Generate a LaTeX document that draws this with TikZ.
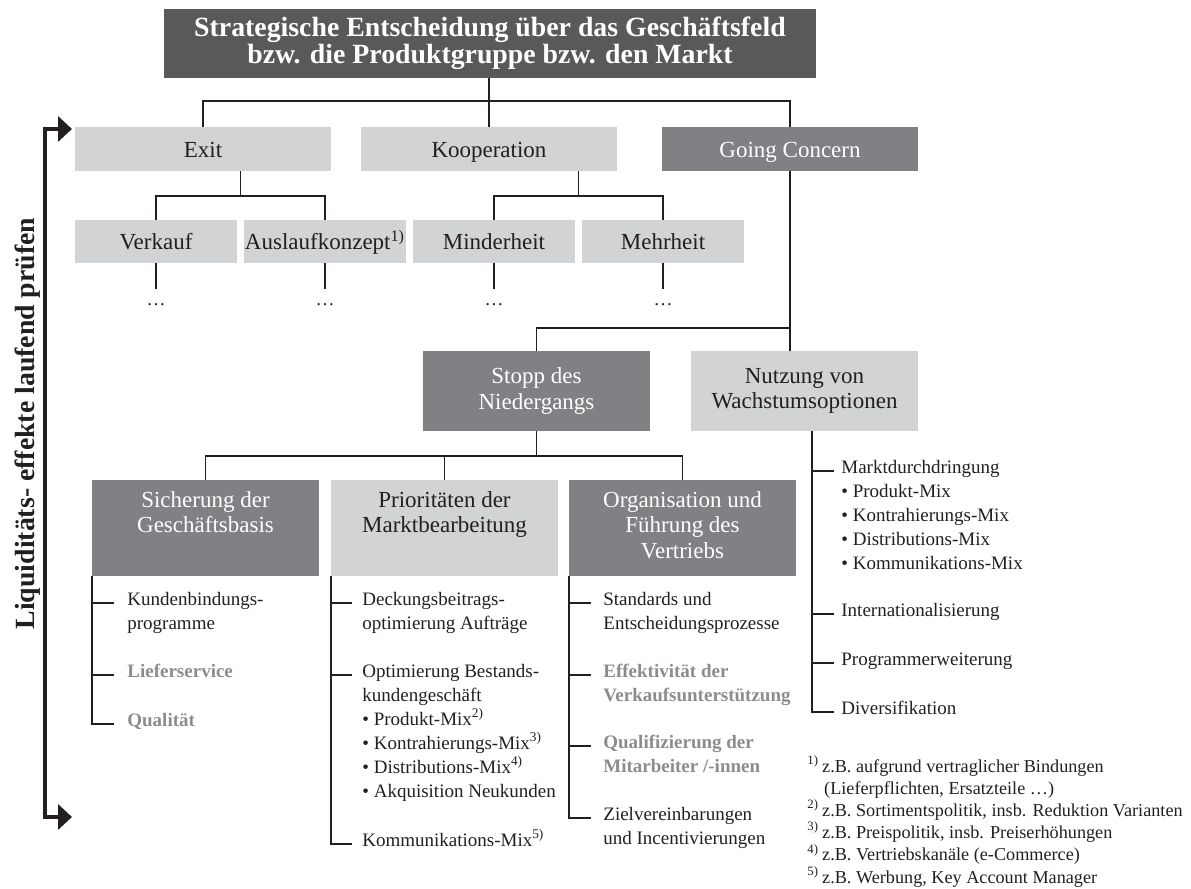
\documentclass[tikz,border=0pt]{standalone}
\usepackage{fontspec}
\setmainfont{Liberation Serif}
\usetikzlibrary{arrows.meta,backgrounds,calc}
\definecolor{boxdark}{HTML}{58595B}
\definecolor{boxmid}{HTML}{808184}
\definecolor{boxlight}{HTML}{D1D3D4}
\definecolor{ink}{HTML}{231F20}
\definecolor{mutedtext}{HTML}{8B8C8E}
% multi-line list entry whose baseline is the first line
\newcommand\itemlines[1]{\begin{tabular}[t]{@{}l@{}}#1\end{tabular}}
% footnote marker that does not widen the line spacing
\newcommand\fnmark[1]{\smash{\textsuperscript{#1}}}
% top-aligned text inside the tall boxes of the third level
\newcommand\boxtop[1]{\parbox[c][48pt][t]{113.5pt}{\centering\vspace*{5.6pt}#1}}
\begin{document}
\begin{tikzpicture}[x=0.5pt, y=-0.5pt,
  every node/.style={text=ink},
  conn/.style={draw=ink, line width=0.9pt},
  boxcore/.style={inner sep=0pt, align=center},
  lightbox/.style={boxcore, fill=boxlight, text=ink},
  midbox/.style={boxcore, fill=boxmid, text=white},
  darkbox/.style={boxcore, fill=boxdark, text=white},
  boxfont/.style={font=\fontsize{11.5}{12.75}\selectfont},
  rowone/.style={boxfont, minimum width=128pt, minimum height=22pt, text height=8.4pt, text depth=0pt},
  rowtwo/.style={boxfont, minimum width=81pt, minimum height=21.5pt, text height=8.4pt, text depth=0pt},
  midrow/.style={boxfont, minimum width=113.5pt, minimum height=40pt},
  lowlight/.style={boxfont, inner sep=0pt, fill=boxlight, text=ink},
  lowmid/.style={boxfont, inner sep=0pt, fill=boxmid, text=white},
  listtext/.style={inner sep=0pt, anchor=base west, font=\fontsize{9.5}{12}\selectfont},
  mutedlist/.style={listtext, font=\fontsize{9.5}{12}\selectfont\bfseries, text=mutedtext},
  notetext/.style={inner sep=0pt, anchor=base west, font=\fontsize{9.1}{11.1}\selectfont},
  ellipsis/.style={inner sep=0pt, anchor=base, text height=8pt, font=\fontsize{9.5}{12}\selectfont},
  loopline/.style={draw=ink, line width=1.7pt, line join=miter,
    arrows={Triangle[length=7pt,width=12.5pt]-Triangle[length=7pt,width=12.5pt]}}
]
\useasboundingbox (0,0) rectangle (1191,889);

% ---- top decision ----
\node[darkbox, minimum width=326pt, minimum height=34.5pt,
      font=\fontsize{13.9}{12.6}\selectfont\bfseries] (title) at (490,43.5)
  {Strategische Entscheidung über das Geschäftsfeld\\bzw. die Produktgruppe bzw. den Markt};

% ---- first level ----
\node[lightbox, rowone] (exit) at (203,149) {Exit};
\node[lightbox, rowone] (koop) at (489,149) {Kooperation};
\node[midbox, rowone] (gc) at (790,149) {Going Concern};

% ---- second level ----
\node[lightbox, rowtwo] (verkauf) at (156,241.5) {Verkauf};
\node[lightbox, rowtwo] (ausl) at (325,241.5) {Auslaufkonzept\fnmark{1)}};
\node[lightbox, rowtwo] (minder) at (494,241.5) {Minderheit};
\node[lightbox, rowtwo] (mehr) at (663,241.5) {Mehrheit};

\node[ellipsis] (dotsA) at (156,305) {…};
\node[ellipsis] (dotsB) at (325,305) {…};
\node[ellipsis] (dotsC) at (494,305) {…};
\node[ellipsis] (dotsD) at (663,305) {…};

% ---- going concern branches ----
\node[midbox, midrow] (stopp) at (536.5,391) {Stopp des\\Niedergangs};
\node[lightbox, midrow] (nutz) at (804.5,391) {Nutzung von\\Wachstumsoptionen};

% ---- third level ----
\node[lowmid] (sich) at (205.5,528) {\boxtop{Sicherung der\\Geschäftsbasis}};
\node[lowlight] (prio) at (444.5,528) {\boxtop{Prioritäten der\\Marktbearbeitung}};
\node[lowmid] (org) at (682.5,528) {\boxtop{Organisation und\\Führung des\\Vertriebs}};

% ---- measures ----
\node[listtext] (sichA) at (127,605) {\itemlines{Kundenbindungs-\\programme}};
\node[mutedlist] (sichB) at (127,677) {Lieferservice};
\node[mutedlist] (sichC) at (127,726) {Qualität};

\node[listtext] (prioA) at (362,605) {\itemlines{Deckungsbeitrags-\\optimierung Aufträge}};
\node[listtext] (prioB) at (362,677) {\itemlines{Optimierung Bestands-\\kundengeschäft\\• Produkt-Mix\fnmark{2)}\\• Kontrahierungs-Mix\fnmark{3)}\\• Distributions-Mix\fnmark{4)}\\• Akquisition Neukunden}};
\node[listtext] (prioC) at (362,846) {Kommunikations-Mix\fnmark{5)}};

\node[listtext] (orgA) at (603,605) {\itemlines{Standards und\\Entscheidungsprozesse}};
\node[mutedlist] (orgB) at (603,677) {\itemlines{Effektivität der\\Verkaufsunterstützung}};
\node[mutedlist] (orgC) at (603,748) {\itemlines{Qualifizierung der\\Mitarbeiter /-innen}};
\node[listtext] (orgD) at (603,820) {\itemlines{Zielvereinbarungen\\und Incentivierungen}};

\node[listtext] (nutzA) at (841,473) {\itemlines{Marktdurchdringung\\• Produkt-Mix\\• Kontrahierungs-Mix\\• Distributions-Mix\\• Kommunikations-Mix}};
\node[listtext] (nutzB) at (841,616) {Internationalisierung};
\node[listtext] (nutzC) at (841,665) {Programmerweiterung};
\node[listtext] (nutzD) at (841,714) {Diversifikation};

% ---- footnotes ----
\node[notetext] (notes) at (807,772) {\begin{tabular}[t]{@{}r@{\hspace{1.6pt}}l@{}}
\fnmark{1)} & z.B. aufgrund vertraglicher Bindungen\\
 & \hspace{1pt}(Lieferpflichten, Ersatzteile …)\\
\fnmark{2)} & z.B. Sortimentspolitik, insb. Reduktion Varianten\\
\fnmark{3)} & z.B. Preispolitik, insb. Preiserhöhungen\\
\fnmark{4)} & z.B. Vertriebskanäle (e-Commerce)\\
\fnmark{5)} & z.B. Werbung, Key Account Manager
\end{tabular}};

% ---- liquidity loop ----
\node[rotate=90, anchor=base, inner sep=0pt, font=\fontsize{13.9}{16}\selectfont\bfseries]
  (looplabel) at (34,423.5) {Liquiditäts- effekte laufend prüfen};
\coordinate (loopTop) at (72,129);
\coordinate (loopBottom) at (72,817);
\coordinate (loopRail) at (45,0);
\draw[loopline] (loopTop) -- (loopTop -| loopRail) -- (loopBottom -| loopRail) -- (loopBottom);

% ---- tree connectors ----
\coordinate (bar1) at (0,101);
\coordinate (bar2) at (0,196);
\coordinate (bar3) at (0,328);
\coordinate (bar4) at (0,456);
\coordinate (exitfork) at ($(verkauf.north)!0.5!(ausl.north)$);
\coordinate (koopfork) at ($(minder.north)!0.5!(mehr.north)$);

\begin{scope}[on background layer]
  \draw[conn] (koop.north |- title.south) -- (koop.north);
  \draw[conn] (exit.north) -- (exit.north |- bar1) -- (gc.north |- bar1)
              -- (gc.center |- bar3) -- (stopp.north |- bar3) -- (stopp.north);
  \draw[conn] (gc.center |- bar3) -- (gc.center |- nutz.north);

  \draw[conn] (exitfork |- exit.south) -- (exitfork |- bar2);
  \draw[conn] (verkauf.north) -- (verkauf.north |- bar2) -- (ausl.north |- bar2) -- (ausl.north);
  \draw[conn] (koopfork |- koop.south) -- (koopfork |- bar2);
  \draw[conn] (minder.north) -- (minder.north |- bar2) -- (mehr.north |- bar2) -- (mehr.north);

  \draw[conn] (verkauf.south) -- (dotsA.north);
  \draw[conn] (ausl.south) -- (dotsB.north);
  \draw[conn] (minder.south) -- (dotsC.north);
  \draw[conn] (mehr.south) -- (dotsD.north);

  \draw[conn] (stopp.south) -- (stopp.south |- bar4);
  \draw[conn] (sich.north) -- (sich.north |- bar4) -- (org.north |- bar4) -- (org.north);
  \draw[conn] (prio.north) -- (prio.north |- bar4);
\end{scope}

% ---- list brackets ----
\coordinate (sTick1) at (114,603);
\coordinate (sTick2) at (114,675);
\coordinate (sTick3) at (114,724);
\draw[conn] (sich.south west) |- (sTick3);
\draw[conn] (sTick1 -| sich.south west) -- (sTick1);
\draw[conn] (sTick2 -| sich.south west) -- (sTick2);

\coordinate (pTick1) at (352,603);
\coordinate (pTick2) at (352,675);
\coordinate (pTick3) at (352,844);
\draw[conn] (prio.south west) |- (pTick3);
\draw[conn] (pTick1 -| prio.south west) -- (pTick1);
\draw[conn] (pTick2 -| prio.south west) -- (pTick2);

\coordinate (oTick1) at (591,603);
\coordinate (oTick2) at (591,675);
\coordinate (oTick3) at (591,746);
\coordinate (oTick4) at (591,818);
\draw[conn] (org.south west) |- (oTick4);
\draw[conn] (oTick1 -| org.south west) -- (oTick1);
\draw[conn] (oTick2 -| org.south west) -- (oTick2);
\draw[conn] (oTick3 -| org.south west) -- (oTick3);

\coordinate (nStem) at (812,0);
\coordinate (nTick1) at (834,471);
\coordinate (nTick2) at (834,614);
\coordinate (nTick3) at (834,663);
\coordinate (nTick4) at (834,712);
\draw[conn] (nStem |- nutz.south) |- (nTick4);
\draw[conn] (nTick1 -| nStem) -- (nTick1);
\draw[conn] (nTick2 -| nStem) -- (nTick2);
\draw[conn] (nTick3 -| nStem) -- (nTick3);
\end{tikzpicture}
\end{document}
